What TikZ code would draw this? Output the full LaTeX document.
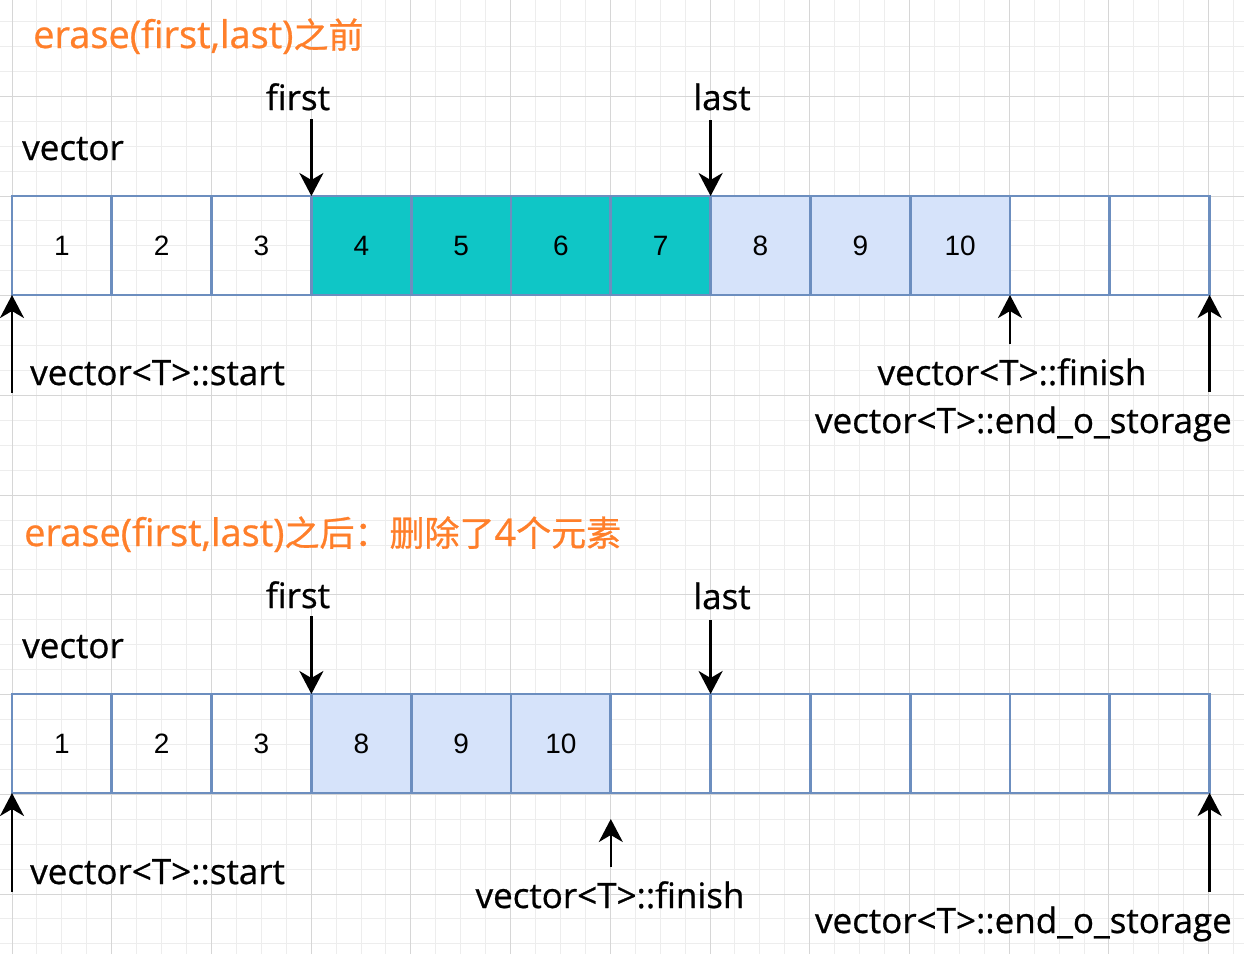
\documentclass[tikz,border=0pt]{standalone}
\usepackage{fontspec}
\setmainfont{Open Sans}[Ligatures=NoCommon, FakeBold=0.7]
\newfontfamily\numfont{Liberation Sans}
\newfontfamily\cjk{Noto Sans CJK SC}[FakeBold=0.7]
\usetikzlibrary{arrows.meta}
\definecolor{cellborder}{HTML}{6C8EBF}
\definecolor{tealfill}{HTML}{0FC6C6}
\definecolor{lightfill}{HTML}{D6E3FA}
\definecolor{orangetxt}{HTML}{FF7F2A}
\definecolor{gridminor}{HTML}{EDEDED}
\definecolor{gridmajor}{HTML}{D6D6D6}
\newcommand{\cj}[1]{{\cjk\fontsize{35}{35}\selectfont #1}}
\begin{document}
\begin{tikzpicture}[x=1pt,y=-1pt,
  cell/.style={draw=cellborder, line width=2.7pt, minimum width=99.8pt, minimum height=99pt,
    inner sep=0pt, outer sep=0pt, anchor=north west, font=\numfont\fontsize{28}{28}\selectfont},
  lbl/.style={inner sep=0pt, font=\fontsize{35}{35}\selectfont},
  ttl/.style={inner sep=0pt, text=orangetxt, font=\fontsize{38}{38}\selectfont, anchor=base west},
  arr/.style={line width=2.6pt, -{Stealth[length=23pt,width=24pt,inset=7pt]}}
]
\useasboundingbox (0,0) rectangle (1244,954);
\fill[white] (0,0) rectangle (1244,954);
% grid
\foreach \k in {0,...,49} {
  \pgfmathsetmacro\xx{12+24.93*\k}
  \draw[gridminor, line width=1pt] (\xx,0) -- (\xx,954);
}
\foreach \k in {-7,...,30} {
  \pgfmathsetmacro\yy{196+24.93*\k}
  \draw[gridminor, line width=1pt] (0,\yy) -- (1244,\yy);
}
\foreach \k in {0,...,12} {
  \pgfmathsetmacro\xx{12+99.72*\k}
  \draw[gridmajor, line width=1pt] (\xx,0) -- (\xx,954);
}
\foreach \k in {-1,...,7} {
  \pgfmathsetmacro\yy{196+99.72*\k}
  \draw[gridmajor, line width=1pt] (0,\yy) -- (1244,\yy);
}
% top row cells
\foreach \i/\t/\f in {1/1/none,2/2/none,3/3/none,4/4/tealfill,5/5/tealfill,6/6/tealfill,7/7/tealfill,8/8/lightfill,9/9/lightfill,10/10/lightfill,11//none,12//none} {
  \pgfmathsetmacro\xx{12+99.8*(\i-1)}
  \node[cell, fill=\f] (a\i) at (\xx,196) {\t};
}
% bottom row cells
\foreach \i/\t/\f in {1/1/none,2/2/none,3/3/none,4/8/lightfill,5/9/lightfill,6/10/lightfill,7//none,8//none,9//none,10//none,11//none,12//none} {
  \pgfmathsetmacro\xx{12+99.8*(\i-1)}
  \node[cell, fill=\f] (b\i) at (\xx,694) {\t};
}
% titles
\node[ttl] (t1) at (33,48) {erase(first,last)\cj{之前}};
\node[ttl] (t2) at (24,546) {erase(first,last)\cj{之后：删除了}4\cj{个元素}};
% top labels
\node[lbl, anchor=base] (first1) at (298,110) {first};
\node[lbl, anchor=base] (last1) at (722,110) {last};
\node[lbl, anchor=base west] (vec1) at (22,160) {vector};
\node[lbl, anchor=base west] (start1) at (30,385) {vector<T>::start};
\node[lbl, anchor=base] (fin1) at (1012,385) {vector<T>::finish};
\node[lbl, anchor=base east] (end1) at (1232,433) {vector<T>::end\_o\_storage};
% bottom labels
\node[lbl, anchor=base] (first2) at (298,608) {first};
\node[lbl, anchor=base] (last2) at (722,609) {last};
\node[lbl, anchor=base west] (vec2) at (22,658) {vector};
\node[lbl, anchor=base west] (start2) at (30,884) {vector<T>::start};
\node[lbl, anchor=base] (fin2) at (610,908) {vector<T>::finish};
\node[lbl, anchor=base east] (end2) at (1232,933) {vector<T>::end\_o\_storage};
% arrows top
\coordinate (pf1) at ([yshift=77pt]a4.north west);
\coordinate (pl1) at ([yshift=76pt]a7.north east);
\coordinate (ps1) at ([yshift=-98pt]a1.south west);
\coordinate (pn1) at ([yshift=-49pt]a10.south east);
\coordinate (pe1) at ([yshift=-97pt]a12.south east);
\draw[arr] (pf1) -- (a4.north west);
\draw[arr] (pl1) -- (a7.north east);
\draw[arr] (ps1) -- (a1.south west);
\draw[arr] (pn1) -- (a10.south east);
\draw[arr] (pe1) -- (a12.south east);
% arrows bottom
\coordinate (pf2) at ([yshift=78pt]b4.north west);
\coordinate (pl2) at ([yshift=74pt]b7.north east);
\coordinate (ps2) at ([yshift=-99pt]b1.south west);
\coordinate (pn2) at ([yshift=-74pt]b6.south east);
\coordinate (pn2t) at ([yshift=-26pt]b6.south east);
\coordinate (pe2) at ([yshift=-99pt]b12.south east);
\draw[arr] (pf2) -- (b4.north west);
\draw[arr] (pl2) -- (b7.north east);
\draw[arr] (ps2) -- (b1.south west);
\draw[arr] (pn2) -- (pn2t);
\draw[arr] (pe2) -- (b12.south east);
\end{tikzpicture}
\end{document}
